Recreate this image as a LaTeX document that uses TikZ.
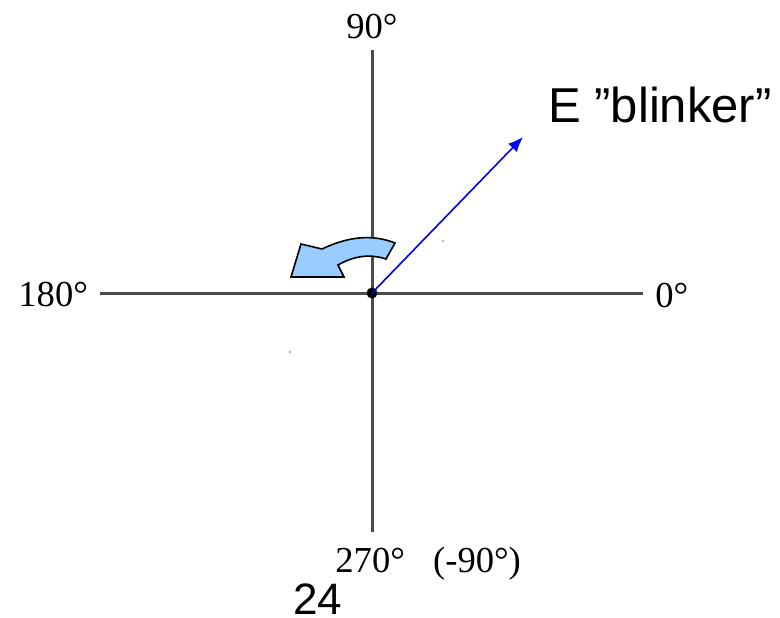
\documentclass[tikz,border=0pt]{standalone}
\usepackage{fontspec}
\setmainfont{Liberation Serif}
\newfontfamily\arialfont{Liberation Sans}
\usetikzlibrary{arrows.meta}
\begin{document}
\begin{tikzpicture}[x=0.5pt,y=-0.5pt,
  axis/.style={draw=black!70,line width=1.5pt},
  deglabel/.style={inner sep=0pt,anchor=base west,font=\fontsize{18.3}{22}\selectfont},
  sanslabel/.style={inner sep=0pt,anchor=base west,font=\arialfont\fontsize{24.5}{29}\selectfont},
  turn/.style={draw=black,line width=0.8pt,fill={rgb,255:red,153;green,204;blue,255},line join=miter}]
\useasboundingbox (0,0) rectangle (780,617);
\coordinate (L) at (100,293);
\coordinate (R) at (643,293);
\coordinate (T) at (372,50);
\coordinate (B) at (372,532);
\coordinate (O) at (372,293);
\coordinate (E) at (523,137);
\draw[axis] (L) -- (R);
\draw[axis] (T) -- (B);
\fill[black] (O) circle (5.5);
\draw[blue,line width=0.8pt,-{Latex[length=7.5pt,width=6pt]}] (O) -- (E);
\node[deglabel,anchor=base] (n90) at (372,38) {90°};
\node[deglabel] (n180) at (18,306) {180°};
\node[deglabel] (n0) at (655,307) {0°};
\node[deglabel] (n270) at (335,572) {270°\hspace{0.77em}(-90°)};
\node[sanslabel] (nE) at (548,122) {E ”blinker”};
\node[inner sep=0pt,anchor=base,font=\arialfont\fontsize{22}{26}\selectfont] (n24) at (318,614) {24};
\draw[turn] (395,243) .. controls (370,233) and (345,238) .. (322,249)
  -- (301,244) -- (291,277) -- (344,277) -- (338,265)
  .. controls (352,257) and (368,253) .. (386,259) -- cycle;
\fill[black!60] (443,241) circle (0.8);
\fill[black!60] (290,352) circle (0.8);
\end{tikzpicture}
\end{document}
